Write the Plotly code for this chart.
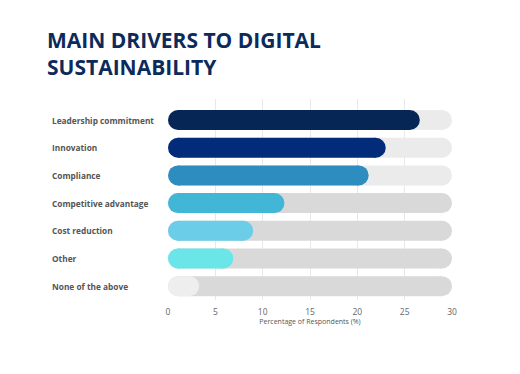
import plotly.graph_objects as go

categories = ["Leadership commitment", "Innovation", "Compliance", "Competitive advantage",
              "Cost reduction", "Other", "None of the above"]
values = [26.6, 23.0, 21.2, 12.3, 9.0, 6.9, 3.3]
track_max = 30
bar_colors = ["#062656", "#022c7a", "#2e8dbf", "#41b6d6", "#6ccde8", "#6ae5e8", "#eeeeee"]
track_colors = ["#ebebeb", "#ebebeb", "#ebebeb", "#d9d9d9", "#d9d9d9", "#d9d9d9", "#d9d9d9"]
x_ticks = [0, 5, 10, 15, 20, 25, 30]

# page body has an 8px default margin: compensate in figure size/margins
W, H = 512, 366
L, R, T, B = 160, 68, 91, 74
plot_w = W - L - R
bar_px = 20
px_per_unit = plot_w / track_max
r = bar_px / 2 / px_per_unit  # cap radius in data units

fig = go.Figure()

def pill(cat, x_end, color):
    fig.add_trace(go.Scatter(
        x=[r, x_end - r], y=[cat, cat], mode="lines+markers",
        line=dict(color=color, width=bar_px),
        marker=dict(color=color, size=bar_px, line=dict(width=0)),
        hoverinfo="skip", showlegend=False,
    ))

for c, tc in zip(categories, track_colors):
    pill(c, track_max, tc)
for c, v, bc in zip(categories, values, bar_colors):
    pill(c, v, bc)

for c in categories:
    fig.add_annotation(
        x=-(L - 42) / plot_w, xref="paper", y=c, yref="y", text=c,
        showarrow=False, xanchor="left", yanchor="middle",
        font=dict(family="Open Sans", size=8.3, color="#555555", weight="bold"),
    )

fig.update_layout(
    width=W, height=H,
    margin=dict(l=L, r=R, t=T, b=B),
    paper_bgcolor="white", plot_bgcolor="white",
    title=dict(
        text="MAIN DRIVERS TO DIGITAL<br>SUSTAINABILITY",
        x=39 / W, xanchor="left", y=1 - 40 / H, yanchor="top",
        font=dict(family="Open Sans", size=21, color="#0c2a5a", weight="bold"),
    ),
    xaxis=dict(
        range=[0, track_max], tickvals=x_ticks, showgrid=True, gridcolor="#e8e8e8",
        gridwidth=1, zeroline=False, showline=False, ticks="outside", ticklen=4,
        tickcolor="rgba(0,0,0,0)",
        tickfont=dict(family="Open Sans", size=8.5, color="#666666"),
        title=dict(text="Percentage of Respondents (%)",
                   font=dict(family="Open Sans", size=7, color="#555555"), standoff=2),
    ),
    yaxis=dict(
        categoryorder="array", categoryarray=categories,
        range=[6.5, -0.76], showticklabels=False, showgrid=False, zeroline=False,
    ),
)

fig.write_html("out.html")
